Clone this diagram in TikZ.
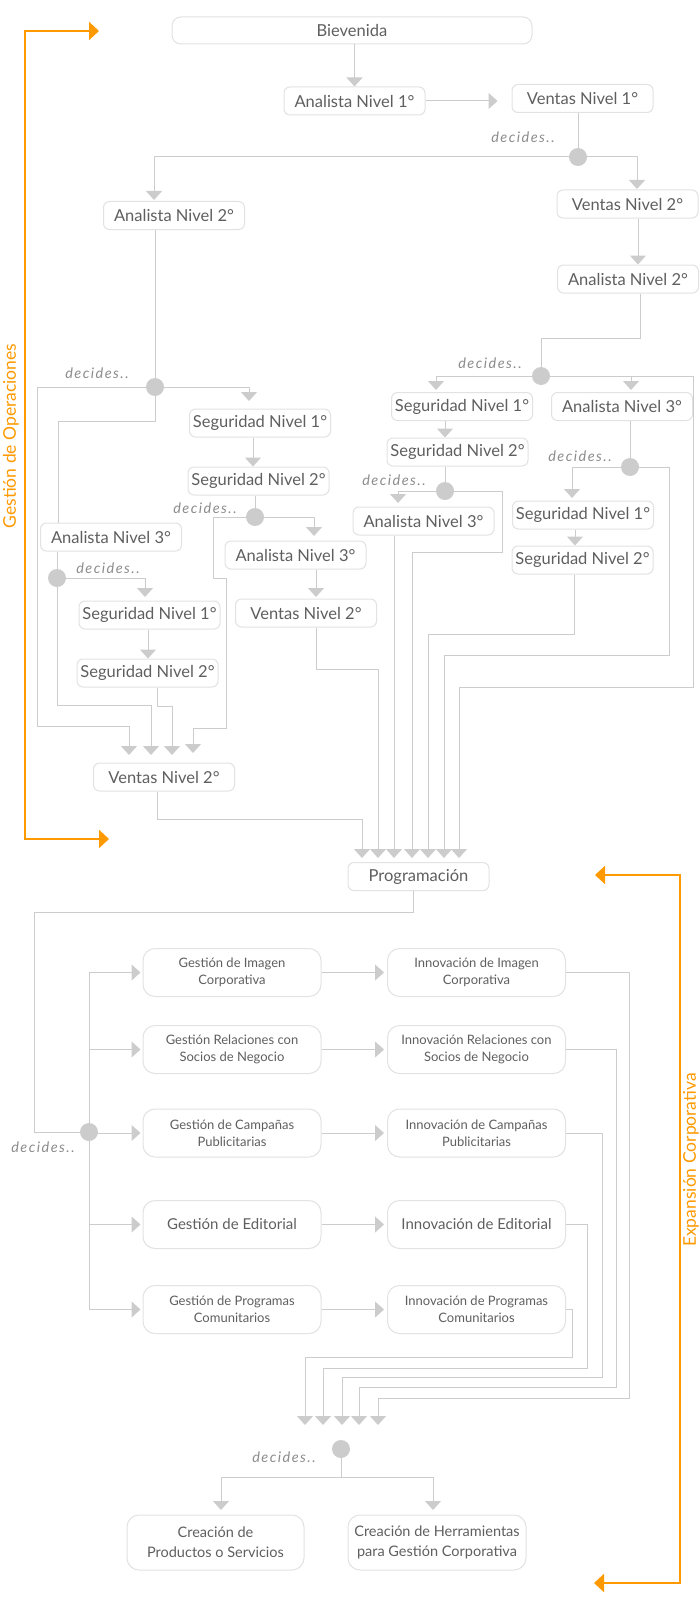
\documentclass[tikz,border=0pt]{standalone}
\usepackage{fontspec}
\setmainfont{Lato}
\newfontfamily\decfont[LetterSpace=10]{Lato}
\usepackage{tikz}
\usetikzlibrary{arrows.meta,calc}

\definecolor{gris}{HTML}{CCCCCC}
\definecolor{borde}{HTML}{E2E2E2}
\definecolor{texto}{HTML}{5F5F5F}
\definecolor{naranja}{HTML}{FF9900}

\tikzset{
  caja/.style={draw=borde, line width=1pt, rounded corners=6pt, fill=white, text=texto,
    font=\fontsize{16.5}{20}\selectfont, minimum width=141pt, minimum height=28pt, inner sep=0pt},
  cajag/.style={caja, rounded corners=12pt, minimum width=178pt, minimum height=48pt,
    align=center, font=\fontsize{13}{17}\selectfont},
  punto/.style={circle, fill=gris, minimum size=18pt, inner sep=0pt},
  decide/.style={text=black!45, font=\decfont\fontsize{14.5}{14}\selectfont\itshape},
  linea/.style={draw=gris, line width=1pt},
  flecha/.style={linea, -{Triangle[width=16pt,length=9pt]}},
  guia/.style={draw=naranja, line width=2pt,
    {Triangle[width=18pt,length=10pt]}-{Triangle[width=18pt,length=10pt]}},
  rotulo/.style={text=naranja, rotate=90, font=\fontsize{17.5}{17}\selectfont}
}

\begin{document}
\begin{tikzpicture}[x=1pt,y=-1pt]
\useasboundingbox (0,0) rectangle (700,1608);

% Gestion de Operaciones: boxes
\node[caja, minimum width=360pt, minimum height=27pt, rounded corners=9pt] (bienv) at (352,30.5) {Bievenida};
\node[caja] (anal1) at (354.5,101) {Analista Nivel 1°};
\node[caja] (vent1) at (582.5,98.5) {Ventas Nivel 1°};
\node[caja] (anal2L) at (174,215.5) {Analista Nivel 2°};
\node[caja] (vent2R) at (627.5,204) {Ventas Nivel 2°};
\node[caja] (anal2R) at (628,279) {Analista Nivel 2°};
\node[caja] (segR1) at (462,406.5) {Seguridad Nivel 1°};
\node[caja] (segR2) at (457.5,452) {Seguridad Nivel 2°};
\node[caja] (anal3M) at (423.5,521) {Analista Nivel 3°};
\node[caja] (anal3R) at (622,406.5) {Analista Nivel 3°};
\node[caja] (segB1) at (583,515) {Seguridad Nivel 1°};
\node[caja] (segB2) at (582.5,560) {Seguridad Nivel 2°};
\node[caja] (segM1) at (260,423) {Seguridad Nivel 1°};
\node[caja] (segM2) at (258.5,481) {Seguridad Nivel 2°};
\node[caja] (anal3ML) at (295.5,555) {Analista Nivel 3°};
\node[caja] (ventM) at (306,613) {Ventas Nivel 2°};
\node[caja] (anal3L) at (111,537) {Analista Nivel 3°};
\node[caja] (segL1) at (149.5,615) {Seguridad Nivel 1°};
\node[caja] (segL2) at (147.5,673) {Seguridad Nivel 2°};
\node[caja] (ventL) at (164,777) {Ventas Nivel 2°};
\node[caja] (prog) at (418.5,876.5) {Programación};

% decision points
\node[punto] (d1) at (578,157) {};
\node[punto] (d2) at (155,387) {};
\node[punto] (d3) at (541,376) {};
\node[punto] (d4) at (445,491) {};
\node[punto] (d5) at (630,467) {};
\node[punto] (d6) at (255,517) {};
\node[punto] (d7) at (57,578) {};
\node[decide] (dec1) at (523,137) {decides..};
\node[decide] (dec2) at (97,373) {decides..};
\node[decide] (dec3) at (490,363) {decides..};
\node[decide] (dec4) at (394,480) {decides..};
\node[decide] (dec5) at (580,456) {decides..};
\node[decide] (dec6) at (205,508) {decides..};
\node[decide] (dec7) at (108,568) {decides..};

% helper columns and arrow ends
\coordinate (x1) at (638,0);  \coordinate (x2) at (640,0);
\coordinate (x3) at (445,0);  \coordinate (x4) at (575,0);
\coordinate (x5) at (574,0);  \coordinate (x6) at (253,0);
\coordinate (x7) at (316,0);  \coordinate (x8) at (148,0);
\coordinate (x9) at (157,0);  \coordinate (x10) at (413,0);
\coordinate (e1) at (154,200); \coordinate (e2) at (637,189);
\coordinate (e3) at (436,390); \coordinate (e4) at (631,390);
\coordinate (e5) at (398,503); \coordinate (e6) at (572,498);
\coordinate (e7) at (249,401); \coordinate (e8) at (314,536);
\coordinate (e9) at (316,597); \coordinate (e10) at (145,597);
\coordinate (v1) at (129,755); \coordinate (v2) at (151,755);
\coordinate (v3) at (172,755); \coordinate (v4) at (193,753);
\foreach \n/\x in {1/362,2/378,3/394,4/412,5/428,6/444,7/459}
    \coordinate (p\n) at (\x,858);

% top chain
\draw[flecha] (bienv.south -| anal1) -- (anal1.north);
\draw[flecha, shorten >=14pt] (anal1.east) -- (anal1.east -| vent1.west);
\draw[linea] (vent1.south -| d1) -- (d1);
\draw[flecha] (d1) -| (e1);
\draw[flecha] (d1) -| (e2);
\draw[flecha] (vent2R.south -| x1) -- (anal2R.north -| x1);
\draw[linea] (anal2R.south -| x2) |- (541,338) -- (d3);

% right branch
\draw[flecha] (d3) -| (e3);
\draw[flecha] (d3) -| (e4);
\draw[flecha] (d3) -| (693,687) -| (p7);
\draw[flecha] (segR1.south -| x3) -- (segR2.north -| x3);
\draw[linea] (segR2.south -| d4) -- (d4);
\draw[flecha] (d4) -| (e5);
\draw[flecha] (d4) -| (502,552) -| (p4);
\draw[flecha] (anal3M.south -| p3) -- (p3);
\draw[linea] (anal3R.south -| d5) -- (d5);
\draw[flecha] (d5) -| (e6);
\draw[flecha] (d5) -| (669,655) -| (p6);
\draw[flecha] (segB1.south -| x4) -- (segB2.north -| x4);
\draw[flecha] (segB2.south -| x5) |- (428,634) -- (p5);

% left branch
\draw[linea] (anal2L.south -| d2) -- (d2);
\draw[flecha] (d2) -| (37,726) -| (v1);
\draw[flecha] (d2) -| (e7);
\draw[linea] (d2) |- (58,421) -- (anal3L.north -| 58,0);
\draw[flecha] (segM1.south -| x6) -- (segM2.north -| x6);
\draw[linea] (segM2.south -| d6) -- (d6);
\draw[flecha] (d6) -| (213,578) -| (226,728) -| (v4);
\draw[flecha] (d6) -| (e8);
\draw[flecha] (anal3ML.south -| x7) -- (e9);
\draw[flecha] (ventM.south -| x7) |- (378,669) -- (p2);
\draw[linea] (anal3L.south -| d7) -- (d7);
\draw[flecha] (d7) -| (e10);
\draw[flecha] (d7) |- (151,705) -- (v2);
\draw[flecha] (segL1.south -| x8) -- (segL2.north -| x8);
\draw[flecha] (segL2.south -| x9) |- (172,706) -- (v3);
\draw[flecha] (ventL.south -| x9) |- (362,819) -- (p1);

% Expansion Corporativa: boxes
\node[cajag] (gImg) at (232,972.5) {Gestión de Imagen\\Corporativa};
\node[cajag] (gRel) at (232,1049.5) {Gestión Relaciones con\\Socios de Negocio};
\node[cajag] (gCamp) at (232,1133) {Gestión de Campañas\\Publicitarias};
\node[cajag, font=\fontsize{15}{17}\selectfont] (gEdit) at (232,1224.5) {Gestión de Editorial};
\node[cajag] (gProg) at (232,1309.5) {Gestión de Programas\\Comunitarios};
\node[cajag] (iImg) at (476.5,972.5) {Innovación de Imagen\\Corporativa};
\node[cajag] (iRel) at (476.5,1049.5) {Innovación Relaciones con\\Socios de Negocio};
\node[cajag] (iCamp) at (476.5,1133) {Innovación de Campañas\\Publicitarias};
\node[cajag, font=\fontsize{15}{17}\selectfont] (iEdit) at (476.5,1224.5) {Innovación de Editorial};
\node[cajag] (iProg) at (476.5,1309.5) {Innovación de Programas\\Comunitarios};
\node[cajag, minimum width=177pt, minimum height=55pt, font=\fontsize{14.5}{20}\selectfont] (cre1) at (215.5,1542.5) {Creación de\\Productos o Servicios};
\node[cajag, minimum width=178pt, minimum height=55pt, font=\fontsize{14.5}{20}\selectfont] (cre2) at (437,1542.5) {Creación de Herramientas\\para Gestión Corporativa};

\node[punto] (d8) at (89,1132) {};
\node[punto] (d9) at (341,1449) {};
\node[decide] (dec8) at (43,1147) {decides..};
\node[decide] (dec9) at (284,1457) {decides..};

\foreach \n/\x in {1/305,2/323,3/342,4/359,5/378}
    \coordinate (q\n) at (\x,1425);
\coordinate (f1) at (221,1510);
\coordinate (f2) at (433,1510);

% lower connectors
\draw[linea] (prog.south -| x10) |- (34,912) |- (d8);
\draw[linea] (gImg.west -| d8) -- (gProg.west -| d8);
\foreach \n in {Img,Rel,Camp,Edit,Prog} {
    \draw[flecha] (g\n.west -| d8) -- ([xshift=-2pt]g\n.west);
    \draw[flecha] (g\n.east) -- ([xshift=-3pt]i\n.west);
}
\foreach \n/\x/\y/\q in {Img/629/1398/5, Rel/616/1387/4, Camp/602/1377/3, Edit/587/1368/2, Prog/572/1357/1}
    \draw[flecha] (i\n.east) -| (\x,\y) -| (q\q);
\draw[flecha] (d9) |- (221,1477) -- (f1);
\draw[flecha] (d9) |- (433,1477) -- (f2);

% orange guides
\coordinate (o1) at (99,31);   \coordinate (o2) at (109,839);
\coordinate (o3) at (595,875); \coordinate (o4) at (594,1583);
\draw[guia] (o1) -| (25,839) -- (o2);
\draw[guia] (o3) -| (680,1583) -- (o4);
\node[rotulo] (tOper) at (11,436) {Gestión de Operaciones};
\node[rotulo] (tExp) at (691,1160) {Expansión Corporativa};
\end{tikzpicture}
\end{document}
